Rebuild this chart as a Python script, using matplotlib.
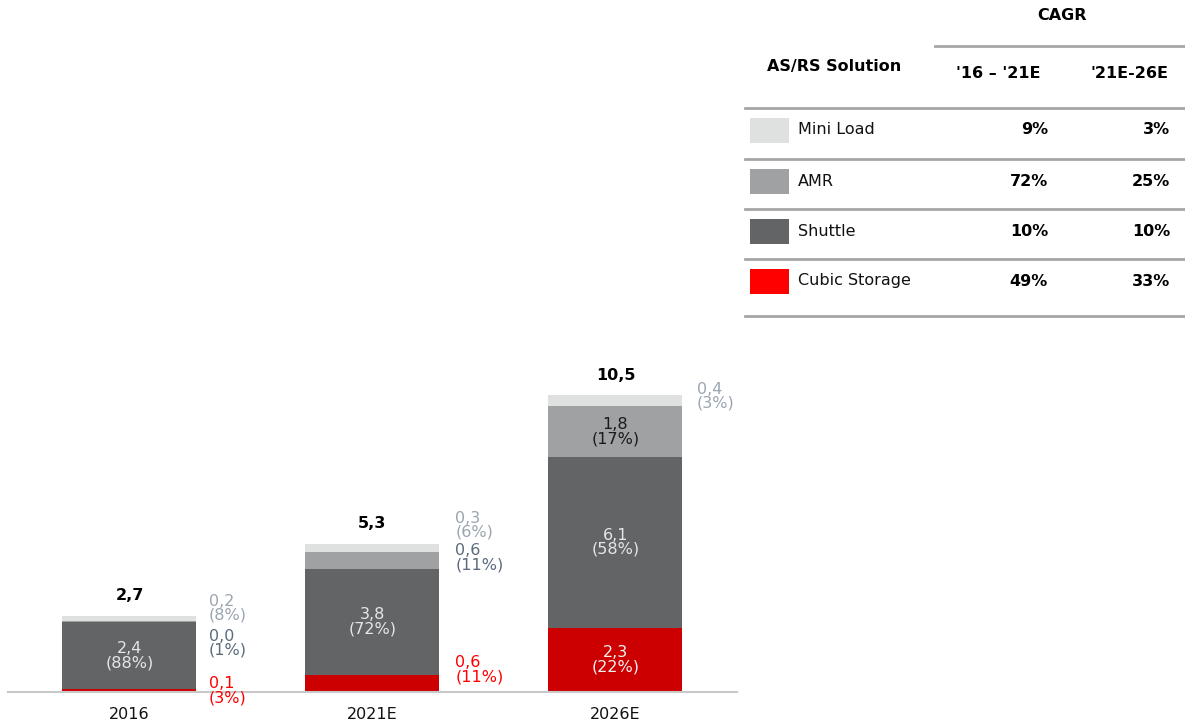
import matplotlib
matplotlib.use("Agg")
import matplotlib.pyplot as plt
from matplotlib.patches import Rectangle

plt.rcParams['font.family'] = ['DejaVu Sans']

years = ["2016", "2021E", "2026E"]
segments = ["Cubic Storage", "Shuttle", "AMR", "Mini Load"]
cubic = [0.1, 0.6, 2.3]
shuttle = [2.4, 3.8, 6.1]
amr = [0.03, 0.6, 1.8]
mini = [0.2, 0.3, 0.4]
cubic_pct = [3, 11, 22]
shuttle_pct = [88, 72, 58]
amr_pct = [1, 11, 17]
mini_pct = [8, 6, 3]
totals = [2.7, 5.3, 10.5]

table_rows = ["Mini Load", "AMR", "Shuttle", "Cubic Storage"]
cagr_16_21 = [9, 72, 10, 49]
cagr_21_26 = [3, 25, 10, 33]

bar_colors = {"Cubic Storage": "#CC0000", "Shuttle": "#636466",
              "AMR": "#A0A1A3", "Mini Load": "#DFE0E0"}
legend_colors = {"Cubic Storage": "#FF0000", "Shuttle": "#636466",
                 "AMR": "#A0A1A3", "Mini Load": "#DFE0E0"}

# vertical placement of the labels set beside the bars (axis units)
mini_lbl_y = [3.0, 5.96, 10.57]
amr_lbl_y = [1.75, 4.79]
cubic_lbl_y = [0.04, 0.79]

W, H = 1185, 724
fig = plt.figure(figsize=(W / 100, H / 100), dpi=100)
fs = 11.5


def fmt(v):
    return f"{v:.1f}".replace(".", ",")


# bar chart
ax = fig.add_axes([8 / W, 32 / H, 729 / W, 692 / H])
ax.set_xlim(-0.5, 2.5)
ax.set_ylim(0, 692 / 28)
width = 134 / 243
x = list(range(len(years)))

stack = [cubic, shuttle, amr, mini]
bottom = [0.0] * len(years)
for name, vals in zip(segments, stack):
    ax.bar(x, vals, width, bottom=bottom, color=bar_colors[name], linewidth=0)
    bottom = [b + v for b, v in zip(bottom, vals)]

for s in ["top", "left", "right"]:
    ax.spines[s].set_visible(False)
ax.spines["bottom"].set_color("#C8C8C8")
ax.spines["bottom"].set_linewidth(1.5)
ax.set_yticks([])
ax.set_xticks(x)
ax.set_xticklabels(years, fontsize=fs, color="#111111")
ax.tick_params(axis="x", length=0, pad=11)

side_x = [0.0 + width / 2 + 0.05, 1 + width / 2 + 0.065, 2 + width / 2 + 0.06]
lbl_kw = dict(fontsize=fs, ha="left", va="center", linespacing=0.9)
in_kw = dict(fontsize=fs, ha="center", va="center", linespacing=0.95)

for i in x:
    top = cubic[i] + shuttle[i] + amr[i] + mini[i]
    ax.text(i, top + 0.45, fmt(totals[i]), ha="center", va="bottom",
            fontsize=fs, fontweight="bold", color="#000000")

    ax.text(i, cubic[i] + shuttle[i] / 2, f"{fmt(shuttle[i])}\n({shuttle_pct[i]}%)",
            color="#E6E6E6", **in_kw)

    ax.text(side_x[i], mini_lbl_y[i], f"{fmt(mini[i])}\n({mini_pct[i]}%)",
            color="#9AA5B1", **lbl_kw)

    if i < 2:
        ax.text(side_x[i], amr_lbl_y[i], f"{fmt(amr[i])}\n({amr_pct[i]}%)",
                color="#5B6B7D", **lbl_kw)
        ax.text(side_x[i], cubic_lbl_y[i], f"{fmt(cubic[i])}\n({cubic_pct[i]}%)",
                color="#FF0000", **lbl_kw)
    else:
        ax.text(i, cubic[i] + shuttle[i] + amr[i] / 2, f"{fmt(amr[i])}\n({amr_pct[i]}%)",
                color="#1A1A1A", **in_kw)
        ax.text(i, cubic[i] / 2, f"{fmt(cubic[i])}\n({cubic_pct[i]}%)",
                color="#F2F2F2", **in_kw)

# CAGR table in pixel coordinates
tx = fig.add_axes([0, 0, 1, 1])
tx.set_xlim(0, W)
tx.set_ylim(H, 0)
tx.axis("off")

line_c = "#A6A6A6"
tx.text(1062, 16, "CAGR", ha="center", va="center", fontsize=fs, fontweight="bold")
tx.plot([935, 1185], [46, 46], color=line_c, lw=2)
tx.text(834, 67, "AS/RS Solution", ha="center", va="center", fontsize=fs, fontweight="bold")
tx.text(998, 73, "'16 \u2013 '21E", ha="center", va="center", fontsize=fs, fontweight="bold")
tx.text(1129, 73, "'21E-26E", ha="center", va="center", fontsize=fs, fontweight="bold")

row_lines = [108, 159, 209, 259, 316]
for y in row_lines:
    tx.plot([745, 1185], [y, y], color=line_c, lw=2)

row_mid = [130, 181, 231, 281]
for name, a, b, ym in zip(table_rows, cagr_16_21, cagr_21_26, row_mid):
    tx.add_patch(Rectangle((750, ym - 12.5), 39, 25, color=legend_colors[name], lw=0))
    tx.text(798, ym, name, ha="left", va="center", fontsize=fs, color="#111111")
    tx.text(1048, ym, f"{a}%", ha="right", va="center", fontsize=fs, fontweight="bold")
    tx.text(1170, ym, f"{b}%", ha="right", va="center", fontsize=fs, fontweight="bold")

fig.savefig("out.png", dpi=100)
